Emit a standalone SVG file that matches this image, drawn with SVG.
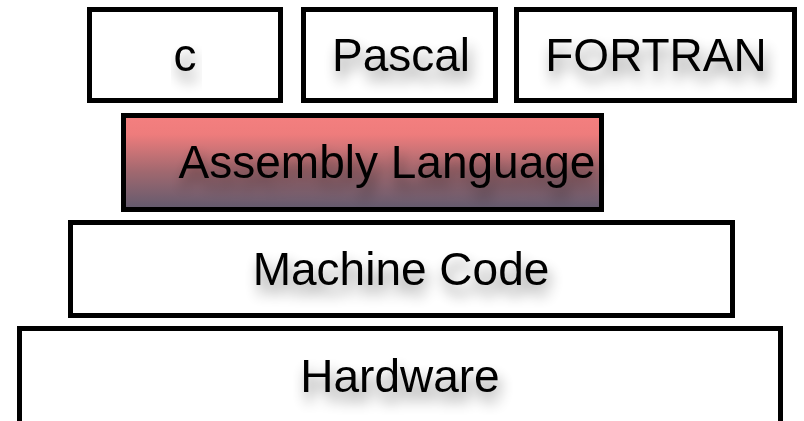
<svg xmlns="http://www.w3.org/2000/svg" width="804" height="421" viewBox="0 0 804 421">
  <defs>
    <linearGradient id="asmGrad" x1="0" y1="0" x2="0" y2="1">
      <stop offset="0" stop-color="#f47f7f"/>
      <stop offset="0.2" stop-color="#ee7c7c"/>
      <stop offset="0.6" stop-color="#a0686f"/>
      <stop offset="1" stop-color="#615a6e"/>
    </linearGradient>
    <filter id="shadow" x="-20%" y="-60%" width="140%" height="240%">
      <feGaussianBlur in="SourceAlpha" stdDeviation="7" result="b"/>
      <feOffset in="b" dx="3" dy="10" result="o"/>
      <feComponentTransfer in="o" result="s">
        <feFuncA type="linear" slope="0.45"/>
      </feComponentTransfer>
      <feMerge>
        <feMergeNode in="s"/>
        <feMergeNode in="SourceGraphic"/>
      </feMerge>
    </filter>
  </defs>
  <style>
    .box { fill: #ffffff; stroke: #000000; stroke-width: 5; }
    .asm { fill: url(#asmGrad); stroke: #000000; stroke-width: 5; }
    .lbl { font-family: "Liberation Sans", Arial, Helvetica, sans-serif; font-size: 46px; fill: #000000; text-anchor: middle; filter: url(#shadow); }
  </style>
  <rect width="804" height="421" fill="#ffffff"/>
  <g id="node-c">
    <rect class="box" x="89.5" y="9.5" width="191" height="91"/>
    <text class="lbl" x="185" y="71">c</text>
  </g>
  <g id="node-pascal">
    <rect class="box" x="303.5" y="9.5" width="192" height="91"/>
    <text class="lbl" x="401" y="71">Pascal</text>
  </g>
  <g id="node-fortran">
    <rect class="box" x="516.5" y="9.5" width="278" height="91"/>
    <text class="lbl" x="656" y="71">FORTRAN</text>
  </g>
  <g id="node-assembly">
    <rect class="asm" x="123.5" y="115.5" width="478" height="94"/>
    <text class="lbl" x="387" y="178">Assembly Language</text>
  </g>
  <g id="node-machine">
    <rect class="box" x="70.5" y="222.5" width="662" height="93"/>
    <text class="lbl" x="401" y="285">Machine Code</text>
  </g>
  <g id="node-hardware">
    <rect class="box" x="19.5" y="328.5" width="761" height="100"/>
    <text class="lbl" x="400" y="392">Hardware</text>
  </g>
  <g id="connectors"/>
</svg>
